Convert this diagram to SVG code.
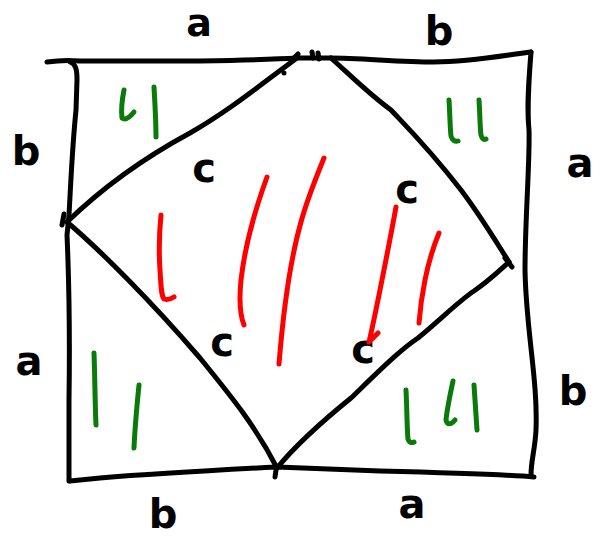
<svg xmlns="http://www.w3.org/2000/svg" width="602" height="536" viewBox="0 0 602 536">
<style>
.ink{fill:none;stroke:#000;stroke-width:5;stroke-linecap:round;stroke-linejoin:round}
.g{fill:none;stroke:#0a7a0a;stroke-width:5;stroke-linecap:round;stroke-linejoin:round}
.r{fill:none;stroke:#ff0000;stroke-width:5;stroke-linecap:round;stroke-linejoin:round}
text{font-family:"DejaVu Sans","Liberation Sans",sans-serif;font-size:40px;font-weight:bold;fill:#000;text-anchor:middle}
</style>
<rect width="602" height="536" fill="#fff"/>
<g id="square">
<path class="ink" d="M47,62 C60,60 70,60 80,61 L200,61 C250,60 280,59 297,58 L330,58 C360,58 400,62 434,62 C470,62 500,56 531,52"/>
<path class="ink" d="M531,52 C528,90 527,110 529,130 C530,160 525,220 525,270 C526,330 538,380 536,430 C535,450 531,460 531,475"/>
<path class="ink" d="M534,477 C500,474 420,472 380,471 L277,467 C220,470 150,474 100,478 L70,481"/>
<path class="ink" d="M70,62 C76,64 77,70 77,80 L76,110 C72,150 71,180 69,215 L67,235 C69,280 70,330 69,400 L69,481"/>
</g>
<g id="diamond">
<path class="ink" d="M67,222 C100,190 140,160 190,133 C230,110 260,85 297,58"/>
<path class="ink" d="M67,222 C100,250 150,300 200,358 C230,395 255,425 277,468"/>
<path class="ink" d="M277,468 C300,440 330,415 351,398 C380,370 400,350 418,338 C440,320 460,300 474,291 C490,280 500,270 509,262"/>
<path class="ink" d="M509,262 C495,240 480,215 461,190 C430,150 410,130 391,110 C370,95 350,75 331,58"/>
<path class="ink" d="M292,60 L298,54 M312,52 L313,58 M318,53 L319,59 M284,73 L284,73 M505,258 L512,267 M276,470 L275,477 M62,225 L64,214"/>
</g>
<g id="labels">
<text x="199" y="36" style="font-size:38px">a</text>
<text x="439" y="45">b</text>
<text x="26" y="165">b</text>
<text x="580" y="177">a</text>
<text x="204" y="182">c</text>
<text x="407" y="203">c</text>
<text x="222" y="356">c</text>
<text x="363" y="363">c</text>
<text x="29" y="375">a</text>
<text x="573" y="405">b</text>
<text x="163" y="528">b</text>
<text x="412" y="518">a</text>
</g>
<g id="green-marks">
<path class="g" d="M124,90 C122,100 121,110 122,118 C126,121 130,117 134,112"/>
<path class="g" d="M154,87 C155,105 156,120 156,137"/>
<path class="g" d="M449,100 C450,115 450,128 451,136 C452,140 455,142 458,141"/>
<path class="g" d="M479,100 C480,115 480,128 481,135 C482,139 484,140 486,139"/>
<path class="g" d="M94,353 C95,380 95,405 96,425"/>
<path class="g" d="M139,385 C137,405 135,425 134,448"/>
<path class="g" d="M406,390 C407,410 407,430 408,439 C409,443 412,443 414,442"/>
<path class="g" d="M453,381 C450,395 447,410 446,420 C447,425 451,425 455,420"/>
<path class="g" d="M474,385 C475,400 476,415 477,430"/>
</g>
<g id="red-marks">
<path class="r" d="M161,215 C159,235 159,255 160,270 C161,285 161,295 164,299 C167,300 171,299 174,297"/>
<path class="r" d="M267,177 C255,210 245,245 241,280 C239,300 240,315 244,325"/>
<path class="r" d="M324,158 C315,180 307,200 301,222 C293,250 285,290 279,364"/>
<path class="r" d="M396,207 C390,240 384,270 380,290 C376,310 373,325 369,342 C373,338 375,336 378,333"/>
<path class="r" d="M439,233 C432,250 428,265 425,280 C422,295 420,310 419,323"/>
</g>
</svg>
